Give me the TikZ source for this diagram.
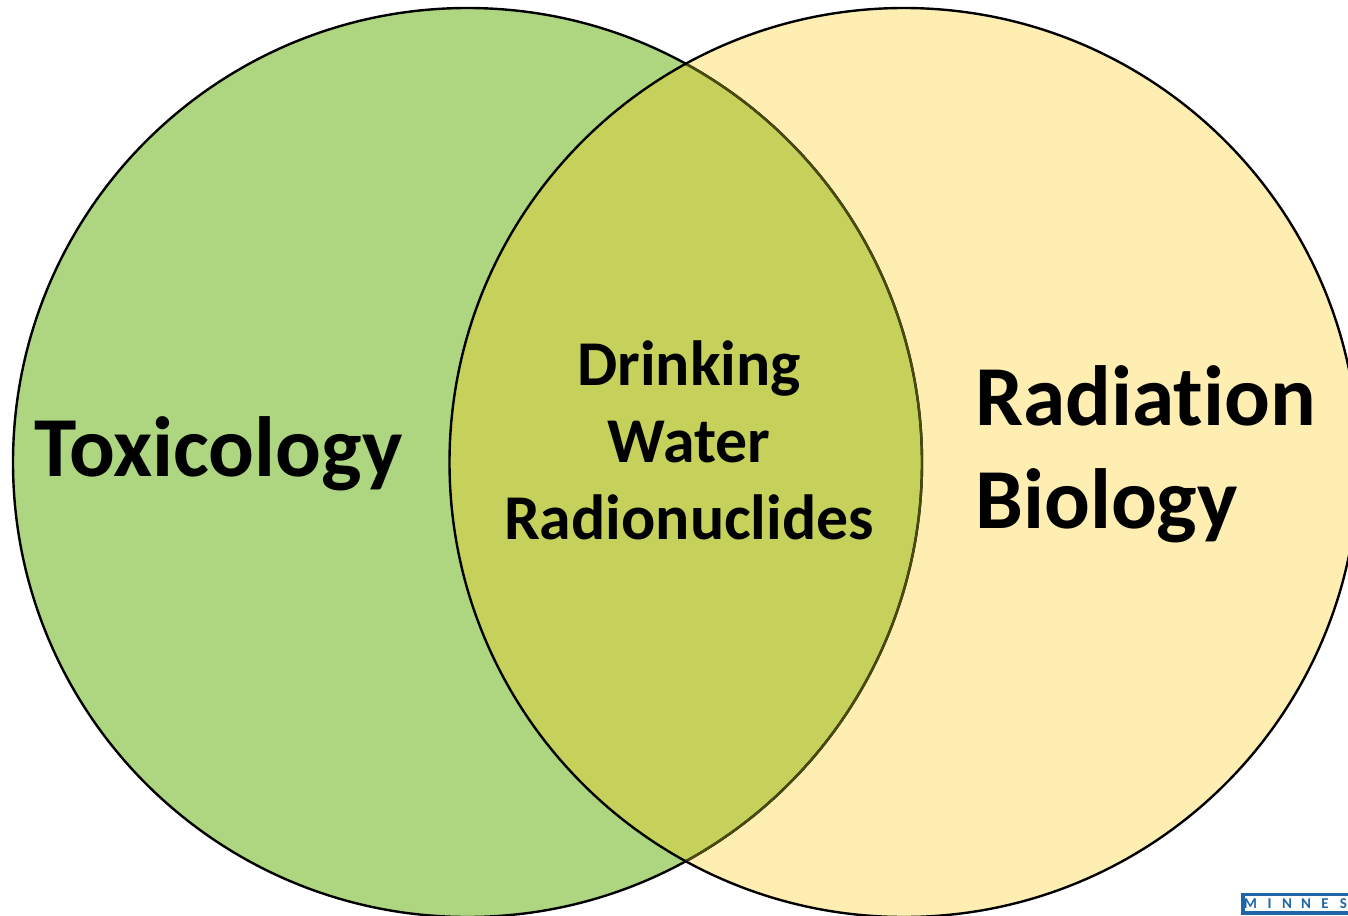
\documentclass[tikz,border=0pt]{standalone}
\usepackage{fontspec}
\setmainfont{Carlito}[Ligatures=NoCommon]
\definecolor{greenfill}{HTML}{AED580}
\definecolor{yellowfill}{HTML}{FEEEB1}
\definecolor{overlapfill}{HTML}{C5D15B}
\definecolor{darkarc}{HTML}{4A4A10}
\definecolor{logoblue}{HTML}{1F66A8}
\tikzset{
  venn/.style={line width=2.4pt,draw=black},
  biglabel/.style={font=\bfseries\fontsize{85.4}{103}\selectfont,align=left,text=black,inner sep=0pt},
  midlabel/.style={font=\bfseries\fontsize{63.8}{77}\selectfont,align=center,text=black,inner sep=0pt},
  logoletter/.style={font=\bfseries\fontsize{15}{15}\selectfont,text=logoblue,inner sep=0pt,anchor=base},
}
\begin{document}
\begin{tikzpicture}[x=1pt,y=-1pt]
\useasboundingbox (0,0) rectangle (1348,915);
\fill[white] (0,0) rectangle (1348,915);
\begin{scope}
\clip (0,0) rectangle (1348,915);
\fill[greenfill] (467.5,462.5) circle (454.5);
\fill[yellowfill] (904,462.5) circle (454.5);
\begin{scope}
\clip (467.5,462.5) circle (454.5);
\fill[overlapfill] (904,462.5) circle (454.5);
\end{scope}
\draw[venn] (467.5,462.5) circle (454.5);
\draw[venn] (904,462.5) circle (454.5);
\begin{scope}
\clip (904,462.5) circle (453.3);
\draw[line width=2.4pt,draw=darkarc] (467.5,462.5) circle (454.5);
\end{scope}
\node[biglabel,anchor=center] (tox) at (218.5,454) {Toxicology};
\node[biglabel,anchor=center] (rad) at (1145.5,454) {Radiation\\Biology};
\node[midlabel,anchor=center] (mid) at (689,440) {Drinking\\Water\\Radionuclides};
\fill[logoblue] (1241,893) rectangle (1348,915);
\fill[white] (1245,896) rectangle (1348,910.5);
\node[logoletter] (l1) at (1250.5,908) {M};
\node[logoletter] (l2) at (1269.5,908) {I};
\node[logoletter] (l3) at (1287,908) {N};
\node[logoletter] (l4) at (1306,908) {N};
\node[logoletter] (l5) at (1325,908) {E};
\node[logoletter] (l6) at (1343.5,908) {S};
\end{scope}
\end{tikzpicture}
\end{document}
